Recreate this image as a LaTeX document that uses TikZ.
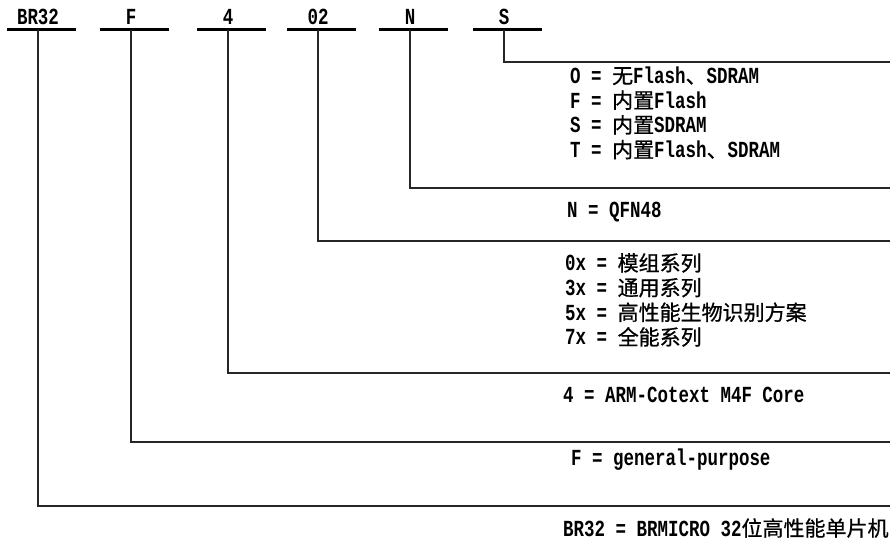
\documentclass[tikz,border=0pt]{standalone}
\usepackage{fontspec}
\newfontfamily\latfont[FakeStretch=0.76]{Liberation Mono}
\newfontfamily\zhfont[FakeBold=0.8]{Noto Sans CJK SC}
\newcommand\zh[1]{{\zhfont\mdseries\fontsize{21pt}{24.7pt}\selectfont #1}}
\newcommand\codefont{\latfont\bfseries\fontsize{23pt}{24.7pt}\selectfont}

\tikzset{
  code/.style={font=\codefont, inner sep=0pt, text depth=5.5pt, anchor=base},
  desc/.style={font=\codefont, inner sep=0pt, anchor=west, align=left},
  underline/.style={line width=2.6pt},
  leader/.style={line width=1.3pt, black!85},
}

\begin{document}
\begin{tikzpicture}[x=1pt, y=-1pt]
  \useasboundingbox (0,0) rectangle (891,542);

  % fields of the part number
  \node[code] (br)   at (38,24)  {BR32};
  \node[code] (fam)  at (131,24) {F};
  \node[code] (core) at (228,24) {4};
  \node[code] (ser)  at (318,24) {02};
  \node[code] (pkg)  at (410,24) {N};
  \node[code] (mem)  at (504,24) {S};

  \foreach \n in {br,fam,core,ser,pkg,mem}
    \draw[underline] ([xshift=-31pt]\n.south) -- ([xshift=38pt]\n.south);

  % right ends of the leaders
  \coordinate (memEnd)  at (890,62);
  \coordinate (pkgEnd)  at (890,188);
  \coordinate (serEnd)  at (890,241);
  \coordinate (coreEnd) at (890,373);
  \coordinate (famEnd)  at (890,442);
  \coordinate (brEnd)   at (890,506);

  \draw[leader] (mem.south)  |- (memEnd);
  \draw[leader] (pkg.south)  |- (pkgEnd);
  \draw[leader] (ser.south)  |- (serEnd);
  \draw[leader] (core.south) |- (coreEnd);
  \draw[leader] (fam.south)  |- (famEnd);
  \draw[leader] (br.south)   |- (brEnd);

  % meanings
  \node[desc] (memTxt) at (570,113)
    {O = \zh{无}Flash\zh{、}SDRAM\\F = \zh{内置}Flash\\S = \zh{内置}SDRAM\\T = \zh{内置}Flash\zh{、}SDRAM};
  \node[desc] (pkgTxt) at (567,212) {N = QFN48};
  \node[desc] (serTxt) at (565,300)
    {0x = \zh{模组系列}\\3x = \zh{通用系列}\\5x = \zh{高性能生物识别方案}\\7x = \zh{全能系列}};
  \node[desc] (coreTxt) at (563,395) {4 = ARM-Cotext M4F Core};
  \node[desc] (famTxt)  at (571,460) {F = general-purpose};
  \node[desc] (brTxt)   at (563,528) {BR32 = BRMICRO 32\zh{位高性能单片机}};
\end{tikzpicture}
\end{document}
